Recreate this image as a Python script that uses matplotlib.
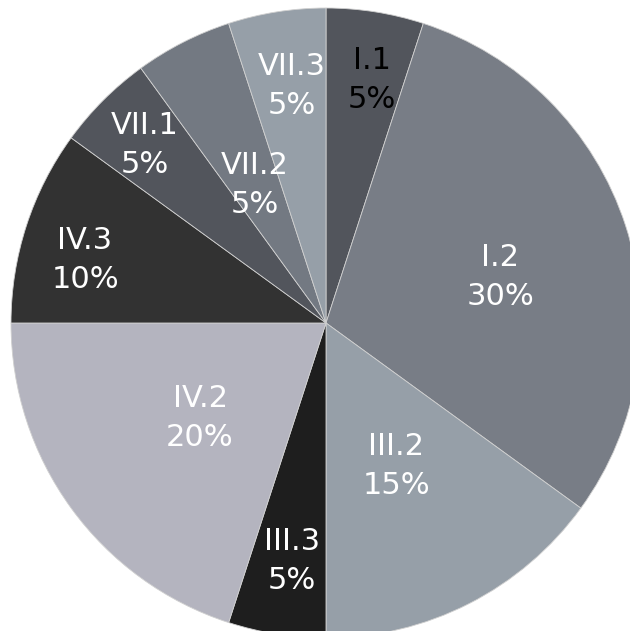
import matplotlib.pyplot as plt

labels = ["I.1", "I.2", "III.2", "III.3", "IV.2", "IV.3", "VII.1", "VII.2", "VII.3"]
shares = [5, 30, 15, 5, 20, 10, 5, 5, 5]

colors = ["#52555c", "#787d86", "#969fa8", "#1e1e1e", "#b4b4bf",
          "#323232", "#52555c", "#737982", "#969fa8"]
text_colors = ["black"] + ["white"] * 8

# label centres in pixels (x, y from top-left), Excel-style placement
label_px = [(372, 80), (500, 277), (396, 466), (292, 561), (200, 418),
            (85, 260), (145, 145), (255, 185), (292, 86)]

cx, cy, r = 326, 323, 315
W, H = 630, 631

fig = plt.figure(figsize=(W / 100, H / 100), dpi=100)
ax = fig.add_axes([0, 0, 1, 1])
ax.pie(shares, colors=colors, startangle=90, counterclock=False,
       radius=1, wedgeprops=dict(edgecolor="#d0d0d0", linewidth=0.6))

for lab, val, tc, (px, py) in zip(labels, shares, text_colors, label_px):
    ax.text((px - cx) / r, (cy - py) / r, f"{lab}\n{val}%", color=tc,
            ha="center", va="center", fontsize=22, linespacing=1.45)

ax.set_xlim(-cx / r, (W - cx) / r)
ax.set_ylim(-(H - cy) / r, cy / r)
ax.set_aspect("auto")
ax.axis("off")

fig.savefig("out.png", dpi=100)
